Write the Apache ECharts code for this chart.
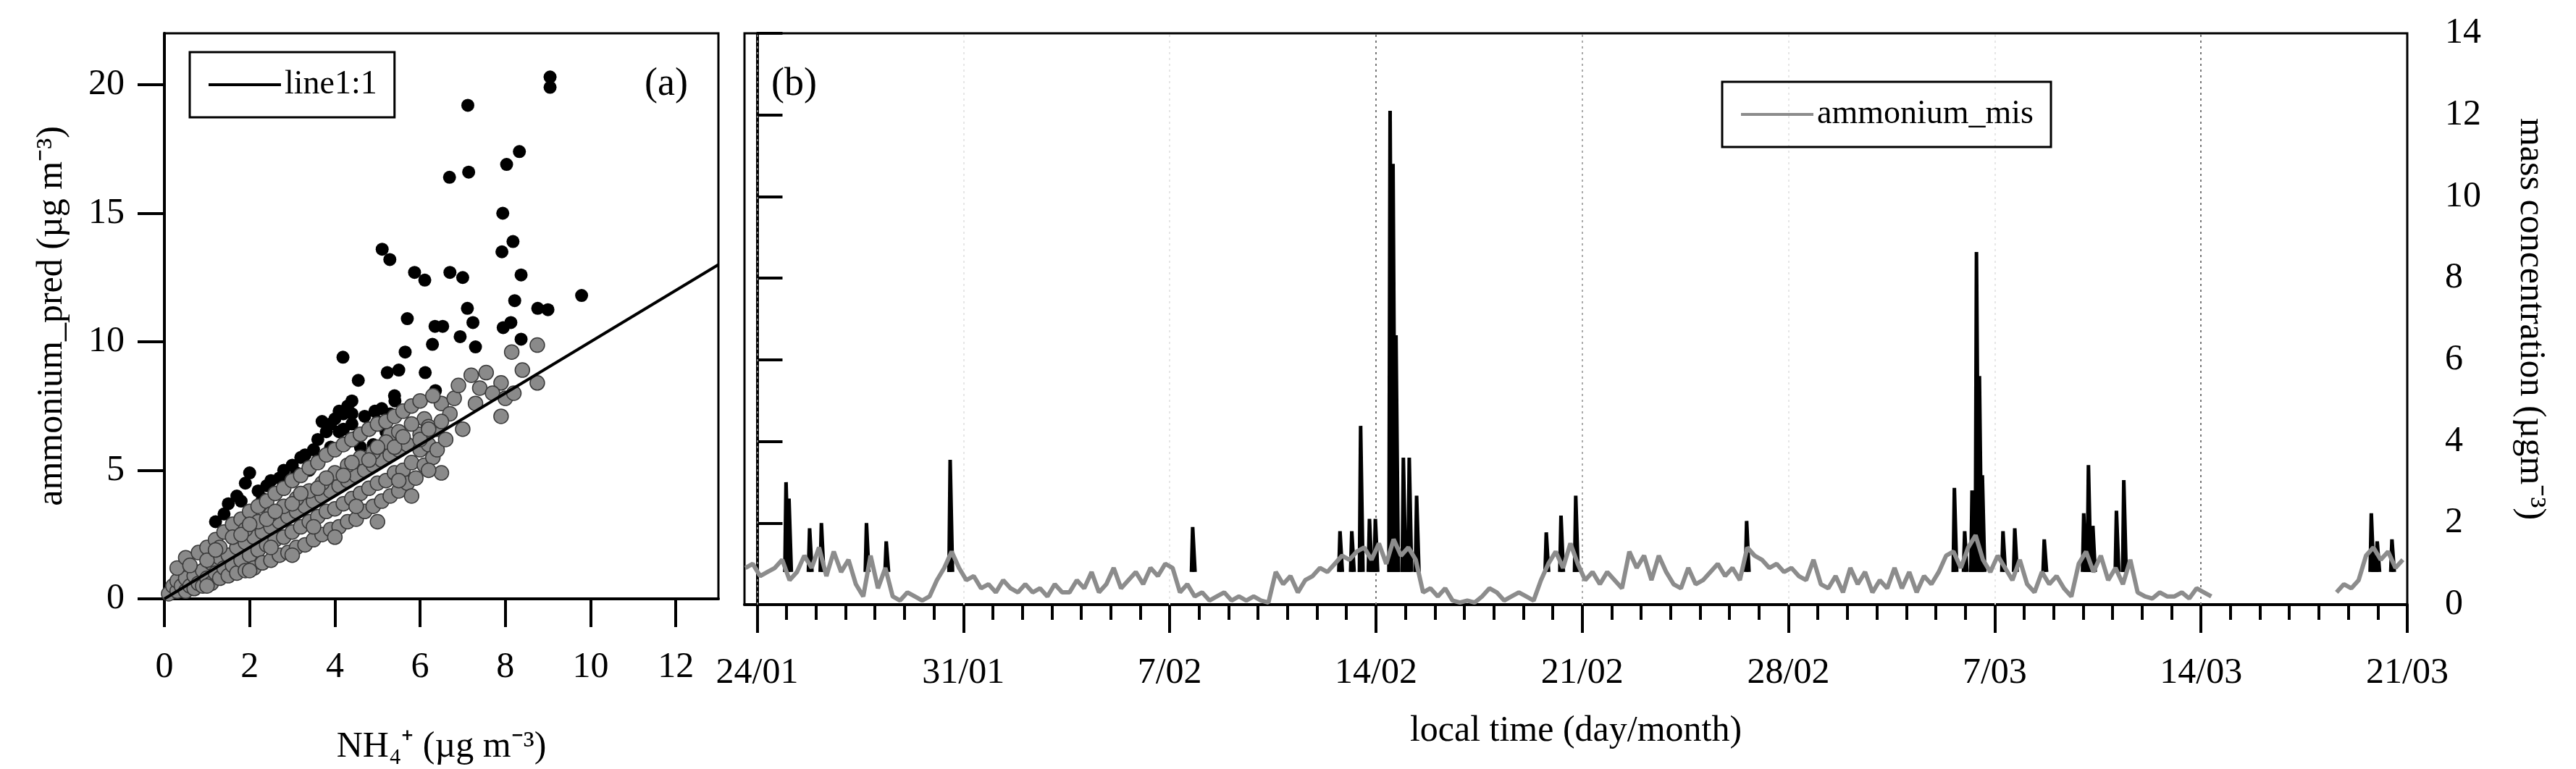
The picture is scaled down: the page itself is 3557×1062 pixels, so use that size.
<!DOCTYPE html>
<html><head><meta charset="utf-8">
<script src="https://cdn.jsdelivr.net/npm/echarts@6/dist/echarts.min.js"></script>
<style>html,body{margin:0;background:#fff}#c{width:3557px;height:1062px}</style>
</head><body><div id="c"></div>
<script>
// ---------- Panel (a) data ----------
const scatterBlack = [[9.05,20.3],[9.05,19.9],[7.12,19.2],[8.33,17.4],[8.03,16.9],[7.14,16.6],[6.69,16.4],[7.94,15.0],[8.18,13.9],[7.92,13.5],[5.11,13.6],[5.29,13.2],[5.87,12.7],[6.11,12.4],[6.70,12.7],[7.0,12.5],[8.37,12.6],[9.79,11.8],[8.22,11.6],[7.11,11.3],[8.76,11.3],[9.0,11.25],[5.7,10.9],[6.35,10.6],[6.53,10.6],[7.24,10.75],[7.95,10.55],[8.13,10.75],[6.29,9.9],[6.94,10.2],[7.3,9.8],[5.65,9.6],[8.37,10.1],[4.19,9.4],[4.55,8.5],[5.23,8.8],[5.5,8.9],[6.12,8.8],[5.41,7.7],[4.94,7.3],[6.36,8.1],[4.4,7.7],[4.3,7.5],[1.5,3.7],[1.9,4.5],[2.0,4.9],[2.5,4.6],[3.0,5.2],[3.5,5.8],[3.8,6.5],[4.0,7.0],[4.2,7.2],[4.4,6.8],[3.2,5.5],[2.8,5.0],[1.2,3.0],[4.5,6.3],[4.8,6.6],[5.0,6.9],[5.3,7.2],[5.2,6.5],[4.3,6.1],[3.6,6.2],[3.9,5.9],[4.1,6.5],[3.4,5.0],[2.2,4.2],[1.7,4.0],[4.6,5.9],[5.5,6.0],[4.9,6.0],[3.7,6.9],[4.1,7.3],[5.4,7.9],[1.4,3.3],[1.8,3.8],[2.4,4.4],[2.7,4.7],[3.3,5.6],[3.6,5.4],[4.2,6.6],[4.7,7.1],[3.9,6.8],[4.4,7.2],[5.1,7.4],[2.3,3.9],[3.1,4.9]];
const scatterGray = [[0.1,0.2],[0.2,0.5],[0.3,0.3],[0.3,0.7],[0.4,0.5],[0.5,0.3],[0.5,0.8],[0.6,0.5],[0.7,0.9],[0.7,0.4],[0.8,0.6],[0.9,1.1],[0.9,0.5],[1.0,0.8],[1.1,1.4],[1.1,0.6],[1.2,1.0],[1.3,1.6],[1.3,0.8],[1.4,1.2],[1.5,0.9],[1.5,1.7],[1.6,1.3],[1.7,1.0],[1.7,2.0],[1.8,1.5],[1.9,1.1],[1.9,2.2],[2.0,1.7],[2.1,1.2],[2.1,2.4],[2.2,1.9],[2.3,1.4],[2.3,2.6],[2.4,2.1],[2.5,1.5],[2.5,2.8],[2.6,2.3],[2.7,1.7],[2.7,3.0],[2.8,2.4],[2.9,1.8],[2.9,3.2],[3.0,2.6],[3.1,2.0],[3.1,3.4],[3.2,2.8],[3.3,2.1],[3.3,3.6],[3.4,3.0],[3.5,2.3],[3.5,3.8],[3.6,3.2],[3.7,2.5],[3.7,4.0],[3.8,3.4],[3.9,2.7],[3.9,4.2],[4.0,3.5],[4.1,2.8],[4.1,4.4],[4.2,3.7],[4.3,3.0],[4.3,4.6],[4.4,3.9],[4.5,3.1],[4.5,4.8],[4.6,4.1],[4.7,3.4],[4.7,5.0],[4.8,4.3],[4.9,3.6],[4.9,5.2],[5.0,4.5],[5.1,3.8],[5.1,5.4],[5.2,4.6],[5.3,4.0],[5.3,5.6],[5.4,4.9],[5.5,4.2],[5.5,5.8],[5.6,5.0],[5.7,4.5],[5.7,6.0],[5.8,5.3],[5.9,4.7],[6.0,5.8],[6.0,6.4],[6.1,5.2],[6.2,6.0],[6.3,5.5],[6.4,6.6],[6.5,4.9],[6.5,7.6],[6.1,7.0],[5.3,6.4],[7.0,6.6],[7.2,8.7],[7.55,8.8],[7.9,8.4],[7.9,7.1],[8.15,9.6],[8.75,8.4],[8.75,9.87],[6.8,7.8],[7.4,8.2],[6.7,7.2],[5.0,3.0],[4.0,2.4],[3.0,1.7],[2.0,1.1],[1.0,0.5],
[0.3,1.2],[0.5,1.6],[0.8,1.8],[1.0,2.0],[1.2,2.3],[1.4,2.6],[1.6,2.9],[1.8,3.1],[2.0,3.4],[2.2,3.6],[2.4,3.8],[2.6,4.1],[2.8,4.3],[3.0,4.6],[3.2,4.8],[3.4,5.1],[3.6,5.3],[3.8,5.6],[4.0,5.8],[4.2,6.0],[4.4,6.2],[4.6,6.4],[4.8,6.6],[5.0,6.8],[5.2,6.9],[5.4,7.1],[5.6,7.3],[5.8,7.5],[6.0,7.7],[6.3,7.9],
[0.6,1.3],[1.0,1.5],[1.3,2.0],[1.6,2.4],[1.9,2.7],[2.2,3.0],[2.5,3.3],[2.8,3.6],[3.1,3.9],[3.4,4.2],[3.7,4.5],[4.0,4.9],[4.3,5.2],[4.6,5.5],[4.9,5.7],[5.2,6.1],[5.5,6.5],[5.8,6.8],[6.2,6.7],
[1.2,1.9],[1.8,2.5],[2.4,3.1],[3.0,3.7],[3.6,4.3],[4.2,4.8],[4.8,5.4],[5.4,5.9],[6.0,6.2],[2.0,2.9],[2.6,3.4],[3.2,4.1],[3.8,4.7],[4.4,5.3],[5.0,5.9],[5.6,6.3],
[2.5,2.0],[3.5,2.8],[4.5,3.6],[5.5,4.6],[6.2,5.0],[5.8,4.0],[6.4,5.8],[6.6,6.2],[7.3,7.6],[7.7,8.0],[8.0,7.8],[8.4,8.9],[8.2,8.0],[6.9,8.3],[6.2,6.6],[6.5,6.9]];
const oneToOne = [[0,0],[13,13]];

// ---------- Panel (b) data ----------
const dateLabels = ['24/01','31/01','7/02','14/02','21/02','28/02','7/03','14/03','21/03'];
const dateDays = [0,7,14,21,28,35,42,49,56];
const grayStart = -0.4, grayStep = 0.25;
const grayValues = [
0.9,1.0,0.7,0.8, 0.9,1.1,0.6,0.8, 1.2,0.9,1.4,0.7, 1.3,0.8,1.1,0.5,
0.2,1.2,0.4,0.9, 0.2,0.1,0.3,0.2, 0.1,0.2,0.6,0.9, 1.3,0.9,0.6,0.7,
0.4,0.5,0.3,0.6, 0.4,0.3,0.5,0.3, 0.4,0.2,0.5,0.3, 0.3,0.6,0.4,0.8,
0.3,0.5,0.9,0.4, 0.6,0.8,0.5,0.9, 0.7,1.0,0.9,0.3, 0.5,0.2,0.3,0.1,
0.2,0.3,0.1,0.2, 0.1,0.2,0.1,0.05, 0.8,0.5,0.7,0.3, 0.6,0.7,0.9,0.8,
1.0,1.2,1.1,1.3, 1.4,1.1,1.5,1.0, 1.6,1.2,1.4,1.1, 0.3,0.4,0.2,0.4,
0.1,0.05,0.1,0.05, 0.2,0.4,0.3,0.1, 0.2,0.3,0.2,0.1, 0.6,1.0,1.3,0.9,
1.5,1.0,0.6,0.8, 0.5,0.8,0.6,0.4, 1.3,0.9,1.2,0.6, 1.2,0.8,0.5,0.4,
0.9,0.5,0.6,0.8, 1.0,0.7,0.9,0.6, 1.4,1.2,1.1,0.9, 1.0,0.8,0.9,0.7,
0.6,1.1,0.5,0.4, 0.7,0.3,0.9,0.5, 0.8,0.3,0.6,0.4, 0.9,0.4,0.8,0.3,
0.7,0.5,0.8,1.2, 1.3,0.9,1.4,1.7, 1.1,0.8,1.2,0.9, 0.6,1.1,0.5,0.3,
0.8,0.5,0.7,0.4, 0.2,1.0,1.3,0.8, 1.2,0.6,0.9,0.5, 1.1,0.3,0.2,0.15,
0.3,0.2,0.2,0.3, 0.15,0.4,0.3,0.2,
null,null,null,null, null,null,null,null, null,null,null,null, null,null,null,null,
0.3,0.5,0.4,0.6, 1.2,1.4,1.1,1.3, 0.9,1.1];
const spikeDays = [1.0,1.1,1.8,2.2,3.73,4.4,6.57,14.8,19.8,20.2,20.5,20.8,21.0,21.5,21.6,21.7,21.95,22.15,22.4,26.8,27.3,27.8,33.6,40.65,41.0,41.25,41.4,41.5,41.6,42.3,42.7,43.7,45.04,45.2,45.35,46.15,46.4,54.8,55.0,55.5];
const spikeValues = [3.0,2.6,1.87,2.0,2.0,1.55,3.55,1.9,1.8,1.8,4.38,2.1,2.1,12.1,10.8,6.6,3.6,3.6,2.67,1.77,2.18,2.67,2.05,2.86,1.8,2.8,8.64,5.6,3.17,1.8,1.87,1.6,2.24,3.42,1.93,2.3,3.05,2.24,1.55,1.6];

const grayData = grayValues.map((v,i)=>[grayStart+i*grayStep, v===null?'-':v]);
const blackData = [];
spikeDays.forEach((d,i)=>{ blackData.push([d-0.06,0.8],[d-0.02,spikeValues[i]],[d+0.02,spikeValues[i]],[d+0.06,0.8],['-','-']); });

const F = 'Liberation Serif';
const txt = {fontFamily:F, fontSize:50, color:'#000'};
const axLine = {show:true, lineStyle:{color:'#000', width:4}};
const minorDays = []; for(let d=0; d<=56; d++) minorDays.push(d);
const dark = {color:'#777', type:[3,5], width:2};
const light = {color:'#e6e6e6', type:[3,5], width:2};

const chart = echarts.init(document.getElementById('c'));
chart.setOption({
  animation:false,
  backgroundColor:'#fff',
  textStyle:{fontFamily:F},
  grid:[
    {left:227, top:46, width:765, height:789, show:true, borderColor:'#000', borderWidth:3},
    {left:1028, top:46, width:2296, height:789, show:true, borderColor:'#000', borderWidth:3}
  ],
  legend:[
    {data:[{name:'line1:1', icon:'rect'}], left:262, top:72, itemWidth:100, itemHeight:4,
     borderColor:'#000', borderWidth:3, padding:[22,24,22,26], itemGap:20, textStyle:{...txt, fontSize:46}},
    {data:[{name:'ammonium_mis', icon:'rect'}], left:2378, top:113, itemWidth:100, itemHeight:4,
     borderColor:'#000', borderWidth:3, padding:[22,24,22,26], textStyle:{...txt, fontSize:46}}
  ],
  xAxis:[
    {gridIndex:0, type:'value', min:0, max:13, interval:2, splitLine:{show:false},
     axisLine:axLine, axisTick:{length:39, lineStyle:{width:4,color:'#000'}},
     axisLabel:{...txt, margin:70, showMaxLabel:false},
     name:'NH₄⁺ (µg m⁻³)', nameLocation:'middle', nameGap:180, nameTextStyle:{...txt}},
    {gridIndex:1, type:'value', min:-0.43, max:56, splitLine:{show:false},
     axisLine:axLine, axisTick:{length:39, customValues:dateDays, lineStyle:{width:4,color:'#000'}},
     axisLabel:{...txt, margin:70, customValues:dateDays, formatter:v=>dateLabels[dateDays.indexOf(Math.round(v))]||''},
     name:'local time (day/month)', nameLocation:'middle', nameGap:150, nameTextStyle:{...txt}},
    {gridIndex:1, type:'value', min:-0.43, max:56, position:'bottom', splitLine:{show:false},
     axisLine:{show:false}, axisTick:{length:21, customValues:minorDays, lineStyle:{width:4,color:'#000'}},
     axisLabel:{show:false}}
  ],
  yAxis:[
    {gridIndex:0, type:'value', min:0, max:22, interval:5, splitLine:{show:false},
     axisLine:axLine, axisTick:{length:37, lineStyle:{width:4,color:'#000'}},
     axisLabel:{...txt, margin:55, showMaxLabel:false},
     name:'ammonium_pred (µg m⁻³)', nameLocation:'middle', nameGap:130, nameTextStyle:{...txt}},
    {gridIndex:1, type:'value', min:0, max:14, interval:2, position:'right', splitLine:{show:false},
     axisLine:axLine, axisTick:{length:35, lineStyle:{width:4,color:'#000'}},
     axisLabel:{...txt, margin:52},
     name:'mass concentration (µgm⁻³)', nameLocation:'middle', nameRotate:-90, nameGap:145, nameTextStyle:{...txt}}
  ],
  series:[
    {type:'scatter', xAxisIndex:0, yAxisIndex:0, data:scatterBlack, symbolSize:18, itemStyle:{color:'#000', opacity:1}, z:2},
    {type:'scatter', xAxisIndex:0, yAxisIndex:0, data:scatterGray, symbolSize:20, itemStyle:{color:'#8a8a8a', borderColor:'#3a3a3a', borderWidth:1.5, opacity:1}, z:3},
    {name:'line1:1', type:'line', xAxisIndex:0, yAxisIndex:0, data:oneToOne, showSymbol:false, lineStyle:{color:'#000', width:4}, itemStyle:{color:'#000'}, z:4},
    {type:'line', xAxisIndex:1, yAxisIndex:1, data:blackData, showSymbol:false, connectNulls:false, lineStyle:{color:'#000', width:5}, z:2},
    {name:'ammonium_mis', type:'line', xAxisIndex:1, yAxisIndex:1, data:grayData, showSymbol:false, connectNulls:false,
     lineStyle:{color:'#8c8c8c', width:6}, itemStyle:{color:'#8c8c8c'}, z:3,
     markLine:{silent:true, symbol:'none', label:{show:false}, z:1,
       data:[
         {xAxis:0, lineStyle:dark}, {xAxis:21, lineStyle:dark}, {xAxis:28, lineStyle:{...dark, color:'#aaa'}}, {xAxis:49, lineStyle:dark},
         {xAxis:7, lineStyle:light}, {xAxis:14, lineStyle:light}, {xAxis:35, lineStyle:light}, {xAxis:42, lineStyle:light}
       ]}}
  ],
  graphic:[
    {type:'text', left:890, top:90, style:{text:'(a)', font:'54px "Liberation Serif"', fill:'#000'}},
    {type:'text', left:1065, top:90, style:{text:'(b)', font:'54px "Liberation Serif"', fill:'#000'}}
  ]
});
</script></body></html>
